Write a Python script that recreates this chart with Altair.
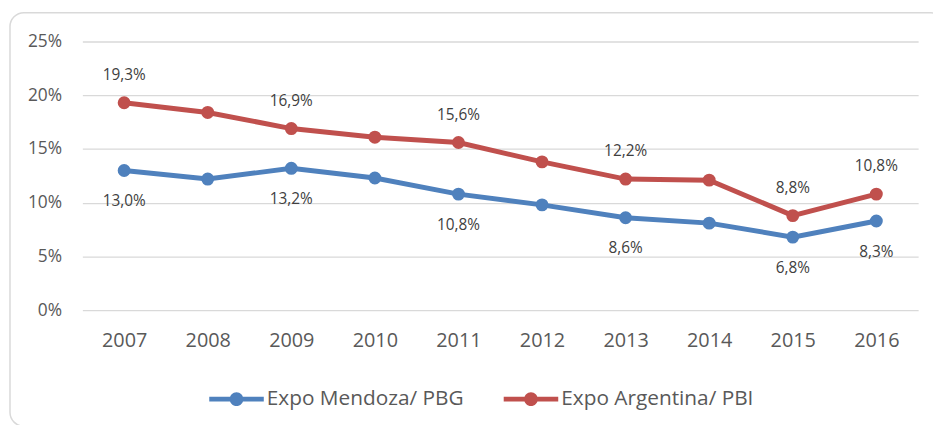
import altair as alt
import pandas as pd

years = ["2007", "2008", "2009", "2010", "2011", "2012", "2013", "2014", "2015", "2016"]
mendoza = [13.0, 12.2, 13.2, 12.3, 10.8, 9.8, 8.6, 8.1, 6.8, 8.3]
argentina = [19.3, 18.4, 16.9, 16.1, 15.6, 13.8, 12.2, 12.1, 8.8, 10.8]
labeled_years = ["2007", "2009", "2011", "2013", "2015", "2016"]
series_names = ["Expo Mendoza/ PBG", "Expo Argentina/ PBI"]
series_colors = ["#4F81BD", "#C0504D"]

rows = []
for name, vals in zip(series_names, [mendoza, argentina]):
    for yr, v in zip(years, vals):
        rows.append({
            "year": yr,
            "serie": name,
            "value": v,
            "label": (f"{v:.1f}".replace(".", ",") + "%") if yr in labeled_years else "",
        })
df = pd.DataFrame(rows)

FONT = "Open Sans"
GRAY = "#595959"

x_enc = alt.X("year:N", sort=years, scale=alt.Scale(paddingInner=0, paddingOuter=0),
              axis=alt.Axis(title=None, labelAngle=0, ticks=False, domain=False, grid=False,
                            labelFontSize=20, labelColor=GRAY, labelFont=FONT, labelPadding=21))
y_enc = alt.Y("value:Q", scale=alt.Scale(domain=[0, 25]),
              axis=alt.Axis(title=None, values=[0, 5, 10, 15, 20, 25], labelExpr="datum.value + '%'",
                            ticks=False, domain=False, gridColor="#D9D9D9", gridWidth=1.3,
                            labelFontSize=17.5, labelColor=GRAY, labelFont=FONT, labelPadding=21))
color_scale = alt.Scale(domain=series_names, range=series_colors)

legend_path = ("M-1,-0.09 L1,-0.09 L1,0.09 L-1,0.09 Z "
               "M-0.25,0 A0.25,0.25 0 1,1 0.25,0 A0.25,0.25 0 1,1 -0.25,0 Z")

base = alt.Chart(df)

lines = base.mark_line(strokeWidth=5).encode(
    x=x_enc, y=y_enc,
    color=alt.Color("serie:N", scale=color_scale, legend=None),
    detail="serie:N",
)
points = base.mark_point(filled=True, size=170, opacity=1).encode(
    x=x_enc, y=y_enc,
    color=alt.Color("serie:N", scale=color_scale,
                    legend=alt.Legend(title=None, orient="none", direction="horizontal",
                                      legendX=128, legendY=333,
                                      symbolType=legend_path, symbolSize=3025,
                                      symbolStrokeWidth=0, symbolOpacity=1, labelFontSize=21,
                                      labelColor=GRAY, labelFont=FONT, labelOffset=3,
                                      labelLimit=0, columnPadding=40)),
)
text_red = base.transform_filter(alt.datum.serie == series_names[1]).mark_text(
    dy=-28, fontSize=15.5, color="#404040", font=FONT).encode(x=x_enc, y=y_enc, text="label:N")
text_blue = base.transform_filter(alt.datum.serie == series_names[0]).mark_text(
    dy=31, fontSize=15.5, color="#404040", font=FONT).encode(x=x_enc, y=y_enc, text="label:N")

border = alt.Chart(pd.DataFrame({"a": [0]})).mark_rect(
    fill=None, stroke="#D9D9D9", strokeWidth=1.5, cornerRadius=14).encode(
    x=alt.value(-73), x2=alt.value(870), y=alt.value(-29), y2=alt.value(388))

chart = alt.layer(border, lines, points, text_red, text_blue).resolve_legend(
    color="independent"
).properties(
    width=843, height=271,
    autosize=alt.AutoSizeParams(type="none"),
    padding={"left": 75, "top": 32, "right": 15, "bottom": 114},
).configure_view(stroke=None)

chart.save("out.html", embed_options={"renderer": "svg", "actions": False})
